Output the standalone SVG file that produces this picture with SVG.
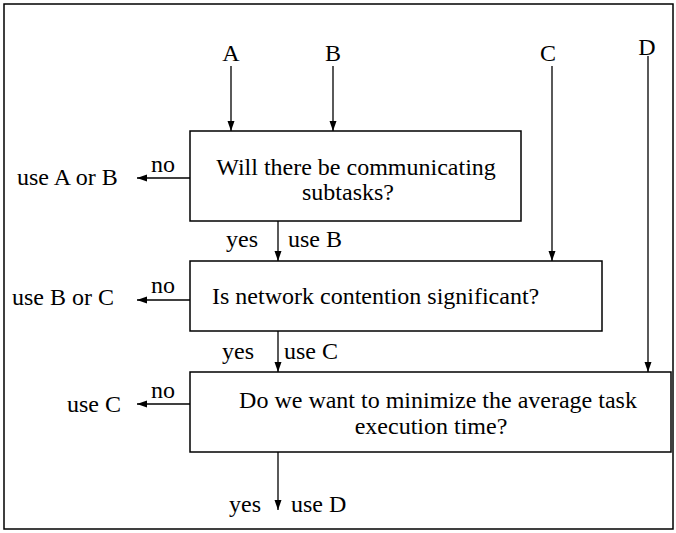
<svg xmlns="http://www.w3.org/2000/svg" width="676" height="533" viewBox="0 0 676 533" font-family="'Liberation Serif', Tinos, 'Times New Roman', 'DejaVu Serif', 'Noto Serif', serif">
<defs>
<marker id="ah" markerUnits="userSpaceOnUse" markerWidth="10" markerHeight="10" viewBox="0 0 10 10" refX="10" refY="5" orient="auto">
<path d="M0,1.5 L10,5 L0,8.5 Z" fill="#000"/>
</marker>
</defs>
<style>
text{font-family:'Liberation Serif', Tinos, 'Times New Roman', 'DejaVu Serif', 'Noto Serif', serif;font-size:24px;fill:#000}
.box{fill:#fff;stroke:#000;stroke-width:1.5}
.c{stroke:#000;stroke-width:1.3;fill:none;marker-end:url(#ah)}
.m{text-anchor:middle}
</style>
<rect x="4" y="4" width="669" height="525" fill="#fff" stroke="#000" stroke-width="1.5"/>
<g id="labels">
<text class="m" x="231" y="61">A</text>
<text class="m" x="333" y="61">B</text>
<text class="m" x="548" y="61">C</text>
<text class="m" x="647" y="55">D</text>
</g>
<g id="n1">
<rect class="box" x="190" y="131" width="331" height="90"/>
<text class="m" x="356" y="175">Will there be communicating</text>
<text class="m" x="348" y="200">subtasks?</text>
</g>
<g id="n2">
<rect class="box" x="190" y="261" width="412" height="70"/>
<text x="212" y="304">Is network contention significant?</text>
</g>
<g id="n3">
<rect class="box" x="190" y="372" width="481" height="80"/>
<text class="m" x="438" y="408">Do we want to minimize the average task</text>
<text class="m" x="431" y="434">execution time?</text>
</g>
<g id="out">
<text x="17" y="185">use A or B</text>
<text x="12" y="305">use B or C</text>
<text x="67" y="412">use C</text>
</g>
<g id="connectors">
<line class="c" x1="231" y1="66" x2="231" y2="131"/>
<line class="c" x1="333" y1="66" x2="333" y2="131"/>
<line class="c" x1="552" y1="66" x2="552" y2="261"/>
<line class="c" x1="648" y1="56" x2="648" y2="372"/>
<line class="c" x1="190" y1="178" x2="137" y2="178"/>
<line class="c" x1="190" y1="300" x2="137" y2="300"/>
<line class="c" x1="190" y1="404" x2="137" y2="404"/>
<line class="c" x1="278" y1="221" x2="278" y2="261"/>
<line class="c" x1="278" y1="331" x2="278" y2="372"/>
<line class="c" x1="278" y1="452" x2="278" y2="510"/>
<text x="151" y="172">no</text>
<text x="151" y="293">no</text>
<text x="151" y="398">no</text>
<text x="226" y="247">yes</text>
<text x="288" y="247">use B</text>
<text x="222" y="359">yes</text>
<text x="284" y="359">use C</text>
<text x="229" y="512">yes</text>
<text x="291" y="512">use D</text>
</g>
</svg>
